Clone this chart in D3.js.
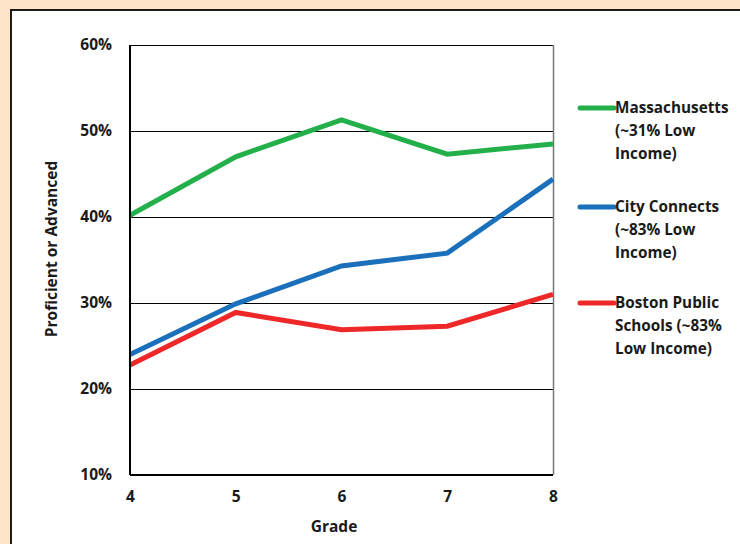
<!DOCTYPE html>
<html>
<head>
<meta charset="utf-8">
<script src="https://cdn.jsdelivr.net/npm/d3@7/dist/d3.min.js"></script>
<style>
  body { margin: 0; background: #fde4c9; }
  text { font-family: "Open Sans", "Liberation Sans", sans-serif; font-weight: bold; fill: #1a1a1a; }
</style>
</head>
<body>
<script>
// data
var grades = [4, 5, 6, 7, 8];
var massachusetts = [40.2, 47.0, 51.3, 47.3, 48.5];
var cityConnects = [24.0, 29.9, 34.3, 35.8, 44.4];
var bostonPublic = [22.8, 28.9, 26.9, 27.3, 31.0];
var yTicks = [10, 20, 30, 40, 50, 60];

var series = [
  { name: ["Massachusetts", "(~31% Low", "Income)"], values: massachusetts, color: "#23b04b", ly: 108 },
  { name: ["City Connects", "(~83% Low", "Income)"], values: cityConnects, color: "#1b70bb", ly: 207 },
  { name: ["Boston Public", "Schools (~83%", "Low Income)"], values: bostonPublic, color: "#ee2828", ly: 303 }
];

var W = 740, H = 544;
var svg = d3.select("body").append("svg").attr("width", W).attr("height", H);

svg.append("rect").attr("width", W).attr("height", H).attr("fill", "#fde4c9");
// white panel, runs off the right and bottom
svg.append("rect")
    .attr("x", 11).attr("y", 10).attr("width", W).attr("height", H)
    .attr("fill", "#fff").attr("stroke", "#1a1a1a").attr("stroke-width", 2);

var x = d3.scaleLinear().domain([4, 8]).range([130, 553]);
var y = d3.scaleLinear().domain([10, 60]).range([475, 45]);

// grid lines
svg.append("g").selectAll("line")
    .data(yTicks.filter(function(d) { return d > 10 && d < 60; }))
  .enter().append("line")
    .attr("x1", x(4)).attr("x2", x(8))
    .attr("y1", function(d) { return y(d) + 0.5; })
    .attr("y2", function(d) { return y(d) + 0.5; })
    .attr("stroke", "#000").attr("stroke-width", 1)
    .attr("shape-rendering", "crispEdges");

// plot frame
svg.append("line").attr("x1", x(4)).attr("x2", x(8)).attr("y1", y(60) + 0.5).attr("y2", y(60) + 0.5)
    .attr("stroke", "#000").attr("stroke-width", 1).attr("shape-rendering", "crispEdges");
svg.append("line").attr("x1", x(8) + 0.5).attr("x2", x(8) + 0.5).attr("y1", y(60)).attr("y2", y(10))
    .attr("stroke", "#777").attr("stroke-width", 1.5);

var line = d3.line()
    .x(function(d, i) { return x(grades[i]); })
    .y(function(d) { return y(d); });

svg.append("g").selectAll("path")
    .data(series)
  .enter().append("path")
    .attr("d", function(d) { return line(d.values); })
    .attr("fill", "none")
    .attr("stroke", function(d) { return d.color; })
    .attr("stroke-width", 5);

// axes drawn over the lines' ends
svg.append("line").attr("x1", x(4)).attr("x2", x(4)).attr("y1", y(60)).attr("y2", y(10))
    .attr("stroke", "#000").attr("stroke-width", 2);
svg.append("line").attr("x1", x(4)).attr("x2", x(8)).attr("y1", y(10)).attr("y2", y(10))
    .attr("stroke", "#000").attr("stroke-width", 2);

var yAxis = d3.axisLeft(y).tickValues(yTicks).tickSize(0).tickPadding(18)
    .tickFormat(function(d) { return d + "%"; });
var gy = svg.append("g").attr("transform", "translate(" + x(4) + ",0)").call(yAxis);
gy.select(".domain").remove();
gy.attr("font-family", null).attr("font-size", null);
gy.selectAll("text").style("font-size", "15.5px");

var xAxis = d3.axisBottom(x).tickValues(grades).tickSize(0).tickPadding(16)
    .tickFormat(d3.format("d"));
var gx = svg.append("g").attr("transform", "translate(0," + y(10) + ")").call(xAxis);
gx.select(".domain").remove();
gx.attr("font-family", null).attr("font-size", null);
gx.selectAll("text").style("font-size", "15.5px");

svg.append("text")
    .attr("x", 334).attr("y", 532)
    .attr("text-anchor", "middle").style("font-size", "15.5px")
    .text("Grade");

svg.append("text")
    .attr("transform", "translate(57,249)rotate(-90)")
    .attr("text-anchor", "middle").style("font-size", "15.5px")
    .text("Proficient or Advanced");

// legend
var leg = svg.append("g").selectAll("g")
    .data(series)
  .enter().append("g");

leg.append("line")
    .attr("x1", 580).attr("x2", 614)
    .attr("y1", function(d) { return d.ly; })
    .attr("y2", function(d) { return d.ly; })
    .attr("stroke", function(d) { return d.color; })
    .attr("stroke-width", 5)
    .attr("stroke-linecap", "round");

leg.append("text")
    .attr("x", 615)
    .attr("y", function(d) { return d.ly + 5; })
    .style("font-size", "15.3px")
    .selectAll("tspan")
    .data(function(d) { return d.name; })
  .enter().append("tspan")
    .attr("x", 615)
    .attr("dy", function(d, i) { return i ? 23 : 0; })
    .text(function(d) { return d; });
</script>
</body>
</html>
